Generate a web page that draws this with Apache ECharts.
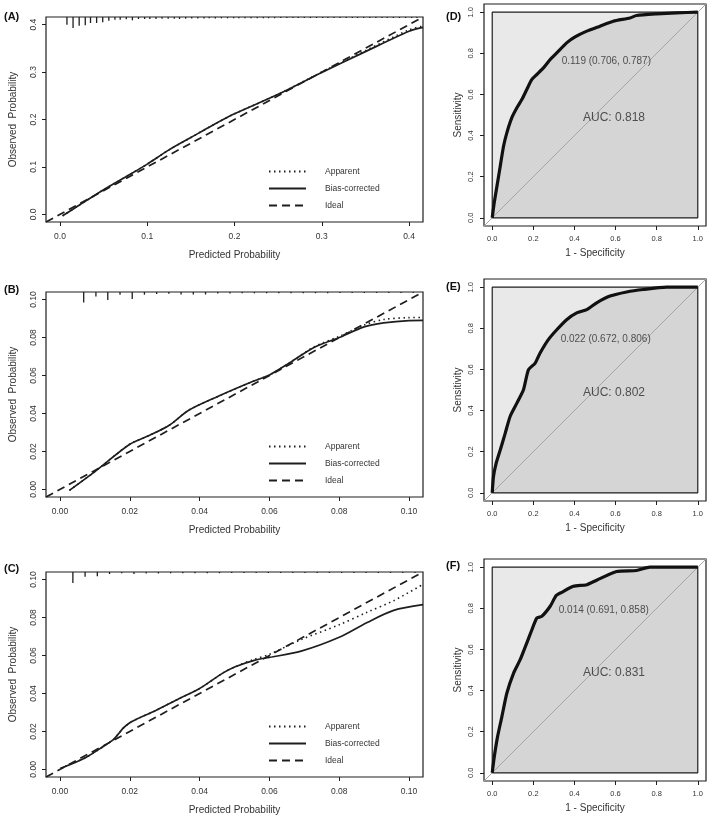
<!DOCTYPE html>
<html><head><meta charset="utf-8">
<script src="https://cdn.jsdelivr.net/npm/echarts@6/dist/echarts.min.js"></script>
<style>html,body{margin:0;padding:0;background:#fff}#c{width:709px;height:821px}</style>
</head><body><div id="c"></div>
<script>
// ---------- DATA ----------
// Calibration panel A
const A_x    = [0.003, 0.02, 0.05, 0.08, 0.1, 0.125, 0.15, 0.175, 0.2, 0.25, 0.3, 0.35, 0.4, 0.416];
const A_bias = [-0.003, 0.017, 0.052, 0.084, 0.106, 0.136, 0.162, 0.188, 0.212, 0.253, 0.299, 0.343, 0.386, 0.394];
const A_app  = [-0.003, 0.017, 0.052, 0.084, 0.106, 0.136, 0.162, 0.188, 0.212, 0.253, 0.300, 0.345, 0.389, 0.397];
// Calibration panel B
const B_x    = [0.0027, 0.0101, 0.02, 0.0257, 0.0313, 0.037, 0.0455, 0.055, 0.06, 0.0663, 0.0729, 0.08, 0.0871, 0.0927, 0.1, 0.104];
const B_bias = [-0.0005, 0.0095, 0.0238, 0.0285, 0.0338, 0.0418, 0.0492, 0.0567, 0.0603, 0.0673, 0.0749, 0.08, 0.0856, 0.0877, 0.0889, 0.089];
const B_app  = [-0.0005, 0.0095, 0.0238, 0.0285, 0.0338, 0.0418, 0.0492, 0.0567, 0.0603, 0.0673, 0.0752, 0.0806, 0.0866, 0.0895, 0.0905, 0.0906];
// Calibration panel C
const C_x    = [0.0002, 0.0073, 0.0125, 0.0153, 0.0167, 0.0181, 0.02, 0.0219, 0.0276, 0.0342, 0.04, 0.0465, 0.0502, 0.0559, 0.06, 0.0691, 0.08, 0.088, 0.0956, 0.104];
const C_bias = [0.0006, 0.0062, 0.0122, 0.0157, 0.0186, 0.0217, 0.0246, 0.0264, 0.0312, 0.0374, 0.0426, 0.0506, 0.0541, 0.0576, 0.059, 0.0623, 0.0696, 0.0774, 0.0838, 0.0868];
const C_app  = [0.0006, 0.0062, 0.0122, 0.0157, 0.0186, 0.0217, 0.0246, 0.0264, 0.0312, 0.0374, 0.0426, 0.0506, 0.0541, 0.0582, 0.0606, 0.0684, 0.0762, 0.0828, 0.0889, 0.0975];

// Rug (distribution of predictions) along top edge: positions and relative frequencies
const rugA_x = [0.008,0.015,0.022,0.029,0.035,0.042,0.049,0.056,0.063,0.069,0.076,0.083,0.090,0.097,0.103,0.110,0.117,0.124,0.131,0.137,0.144,0.151,0.158,0.165,0.171,0.178,0.185,0.192,0.199,0.205,0.212,0.219,0.226,0.233,0.239,0.246,0.253,0.260,0.267,0.273,0.280,0.287,0.294,0.301,0.307,0.314,0.321,0.328,0.335,0.341,0.348,0.355,0.362,0.369,0.375,0.382,0.389,0.396,0.403,0.409];
const rugA_f = [7.7,11,8.7,8.3,6,6,5.3,3.7,2.7,2.7,2.3,3.3,2,2,2,2,1.7,1.7,1.7,2,1.7,1.5,1.5,1.5,1.3,1.5,1.3,1.3,1.3,1.3,1.2,1.2,1.2,1.2,1.2,1.2,1.1,1.1,1.1,1.1,1.1,1.1,1,1,1,1,1,1,1,1,1,1,1,1,1,1,1,1,1,1];
const rugB_x = [0.0068,0.0103,0.0137,0.0172,0.0207,0.0242,0.0277,0.0312,0.0347,0.0382,0.0417,0.0452,0.0487,0.0522,0.0557,0.0592,0.0627,0.0662,0.0697,0.0732,0.0767,0.0802,0.0837,0.0872,0.0907,0.0942,0.0977,0.1012];
const rugB_f = [10.5,4.5,8,2.7,7,2.7,2,1.7,2.5,2.5,2.5,1.5,1.5,1.3,1.3,1.3,1.2,1.2,1.2,1.2,1.2,1,1,1,1,1,1,1];
const rugC_x = [0.0037,0.0072,0.0107,0.0142,0.0177,0.0212,0.0247,0.0282,0.0317,0.0352,0.0387,0.0422,0.0457,0.0492,0.0527,0.0562,0.0597,0.0632,0.0667,0.0702,0.0737,0.0772,0.0807,0.0842,0.0877,0.0912,0.0947,0.0982,0.1017];
const rugC_f = [11,4.8,4.2,2,1.3,2,1.5,1.5,1.3,1.3,1.2,1.2,1.2,1.1,1.1,1,1,1,1,1,1,1,1,1,1,1,1,1,1];

// ROC curves: 1 - specificity (fpr) and sensitivity (tpr)
const D_fpr = [0,0.0097,0.023,0.039,0.055,0.071,0.095,0.12,0.144,0.168,0.193,0.217,0.249,0.282,0.314,0.362,0.403,0.46,0.524,0.589,0.67,0.702,0.799,0.896,1];
const D_tpr = [0,0.073,0.154,0.251,0.348,0.413,0.486,0.535,0.575,0.624,0.673,0.697,0.729,0.77,0.802,0.851,0.88,0.908,0.932,0.956,0.972,0.984,0.992,0.997,1];
const E_fpr = [0,0.006,0.019,0.039,0.063,0.087,0.12,0.152,0.176,0.209,0.233,0.273,0.314,0.362,0.411,0.46,0.508,0.573,0.654,0.735,0.848,1];
const E_tpr = [0,0.078,0.143,0.208,0.289,0.371,0.436,0.501,0.598,0.631,0.68,0.745,0.793,0.842,0.875,0.891,0.924,0.957,0.977,0.989,1,1];
const F_fpr = [0,0.01,0.026,0.047,0.071,0.104,0.136,0.168,0.193,0.217,0.241,0.282,0.311,0.338,0.395,0.46,0.508,0.605,0.702,0.767,1];
const F_tpr = [0,0.078,0.176,0.273,0.387,0.485,0.55,0.631,0.696,0.753,0.761,0.81,0.862,0.878,0.907,0.915,0.937,0.979,0.984,1,1];

// Best thresholds (threshold, specificity, sensitivity) and AUCs
const D_thr = [0.119, 0.706, 0.787];
const E_thr = [0.022, 0.672, 0.806];
const F_thr = [0.014, 0.691, 0.858];
const aucs = [0.818, 0.802, 0.831];

// Tick labels
const ticksA = [0, 0.1, 0.2, 0.3, 0.4];
const ticksBC = [0, 0.02, 0.04, 0.06, 0.08, 0.10];
const ticksROC = [0, 0.2, 0.4, 0.6, 0.8, 1.0];
const legendNames = ['Apparent', 'Bias-corrected', 'Ideal'];
const panelLabels = ['(A)', '(B)', '(C)', '(D)', '(E)', '(F)'];

// ---------- BUILD ----------
const FONT = '"Liberation Sans", Arial, Helvetica, sans-serif';
const INK = '#1e1e1e';
const zip = (a, b) => a.map((v, i) => [v, b[i]]);

const grids = [
  {left: 42, top: 17, width: 381, height: 205},
  {left: 42, top: 292, width: 381, height: 205},
  {left: 42, top: 572, width: 381, height: 205},
  {left: 484, top: 4, width: 222, height: 222},
  {left: 484, top: 279, width: 222, height: 222},
  {left: 484, top: 559, width: 222, height: 222}
].map(g => Object.assign(g, {show: true, borderColor: INK, borderWidth: 1.2, backgroundColor: '#fff', containLabel: false}));

const cal = [
  {min: -0.016, max: 0.416, ticks: ticksA, dec: 1, x: A_x, bias: A_bias, app: A_app, rx: rugA_x, rf: rugA_f, legTop: 167},
  {min: -0.004, max: 0.104, ticks: ticksBC, dec: 2, x: B_x, bias: B_bias, app: B_app, rx: rugB_x, rf: rugB_f, legTop: 442},
  {min: -0.004, max: 0.104, ticks: ticksBC, dec: 2, x: C_x, bias: C_bias, app: C_app, rx: rugC_x, rf: rugC_f, legTop: 722}
];
const roc = [
  {fpr: D_fpr, tpr: D_tpr, thr: D_thr, off: [4, 5], auc: aucs[0]},
  {fpr: E_fpr, tpr: E_tpr, thr: E_thr, off: [-4, 12], auc: aucs[1]},
  {fpr: F_fpr, tpr: F_tpr, thr: F_thr, off: [-2, 14], auc: aucs[2]}
];
const ROC_MIN = -0.04, ROC_MAX = 1.04;

const xAxis = [], yAxis = [], series = [], legend = [];

function axis(gi, min, max, ticks, dec, isY, name, opts) {
  return {
    gridIndex: gi, type: 'value', min: min, max: max,
    position: isY ? 'left' : 'bottom',
    axisLine: {show: false, onZero: false}, splitLine: {show: false},
    axisTick: {show: true, customValues: ticks, length: 4, lineStyle: {color: INK, width: 1}},
    axisLabel: {customValues: ticks, formatter: v => v.toFixed(dec), fontSize: opts.fs, color: '#333',
                fontFamily: FONT, margin: opts.margin, rotate: isY ? 90 : 0},
    name: name, nameLocation: 'middle', nameGap: opts.nameGap,
    nameTextStyle: {fontSize: 10, color: '#333', fontFamily: FONT}
  };
}

function rugRender(params, api) {
  const cs = params.coordSys;
  const p = api.coord([api.value(0), 0]);
  return {type: 'line', shape: {x1: p[0], y1: cs.y, x2: p[0], y2: cs.y + api.value(1)},
          style: {stroke: INK, lineWidth: 1.3}};
}

cal.forEach((c, i) => {
  xAxis.push(axis(i, c.min, c.max, c.ticks, c.dec, false, 'Predicted Probability', {fs: 8.5, margin: 10, nameGap: 28}));
  yAxis.push(axis(i, c.min, c.max, c.ticks, c.dec, true, 'Observed  Probability', {fs: 8.5, margin: 8, nameGap: 28}));
  series.push({type: 'custom', name: 'rug' + i, xAxisIndex: i, yAxisIndex: i, renderItem: rugRender,
               data: zip(c.rx, c.rf), silent: true, z: 3});
  series.push({type: 'line', name: 'Ideal', xAxisIndex: i, yAxisIndex: i, symbol: 'none', silent: true,
               data: [[c.min, c.min], [c.max, c.max]],
               lineStyle: {color: INK, width: 1.7, type: [8, 5]}, itemStyle: {color: INK}, z: 2});
  series.push({type: 'line', name: 'Apparent', xAxisIndex: i, yAxisIndex: i, symbol: 'none', silent: true,
               data: zip(c.x, c.app), smooth: 0.3,
               lineStyle: {color: INK, width: 1.6, type: [1.5, 3.5]}, itemStyle: {color: INK}, z: 2});
  series.push({type: 'line', name: 'Bias-corrected', xAxisIndex: i, yAxisIndex: i, symbol: 'none', silent: true,
               data: zip(c.x, c.bias), smooth: 0.3,
               lineStyle: {color: INK, width: 1.7, type: 'solid'}, itemStyle: {color: INK}, z: 2});
  legend.push({data: legendNames, left: 268, top: c.legTop, orient: 'vertical', itemWidth: 37, itemHeight: 10,
               itemGap: 8, padding: 0, selectedMode: false,
               itemStyle: {color: 'rgba(0,0,0,0)', borderColor: 'rgba(0,0,0,0)', borderWidth: 0, opacity: 0},
               textStyle: {fontSize: 8.5, color: '#333', fontFamily: FONT, padding: [0, 0, 0, 14]}});
});

roc.forEach((r, k) => {
  const i = k + 3;
  xAxis.push(axis(i, ROC_MIN, ROC_MAX, ticksROC, 1, false, '1 - Specificity', {fs: 7.5, margin: 9, nameGap: 22}));
  yAxis.push(axis(i, ROC_MIN, ROC_MAX, ticksROC, 1, true, 'Sensitivity', {fs: 7.5, margin: 9, nameGap: 21}));
  const common = {xAxisIndex: i, yAxisIndex: i, symbol: 'none', silent: true};
  series.push(Object.assign({type: 'line', name: 'maxauc' + k, data: [[0, 1], [1, 1]],
               lineStyle: {width: 0}, areaStyle: {color: '#e9e9e9', opacity: 1}, z: 1}, common));
  series.push(Object.assign({type: 'line', name: 'aucpoly' + k, data: zip(r.fpr, r.tpr), smooth: 0.2,
               lineStyle: {width: 0}, areaStyle: {color: '#d5d5d5', opacity: 1}, z: 1}, common));
  series.push(Object.assign({type: 'line', name: 'diag' + k, data: [[ROC_MIN, ROC_MIN], [ROC_MAX, ROC_MAX]],
               lineStyle: {color: '#a6a6a6', width: 1}, z: 2}, common));
  series.push(Object.assign({type: 'line', name: 'square' + k, data: [[0, 0], [1, 0], [1, 1], [0, 1], [0, 0]],
               lineStyle: {color: INK, width: 1.2}, z: 2}, common));
  series.push(Object.assign({type: 'line', name: 'roc' + k, data: zip(r.fpr, r.tpr), smooth: 0.2,
               lineStyle: {color: '#111', width: 3.2, join: 'round'}, z: 3}, common));
  const t = r.thr;
  series.push({type: 'scatter', name: 'thr' + k, xAxisIndex: i, yAxisIndex: i, symbolSize: 0, silent: true, z: 4,
               data: [[1 - t[1], t[2]]],
               label: {show: true, position: 'right', offset: r.off, fontSize: 10, color: '#2a2a2a', fontFamily: FONT,
                       formatter: () => t[0].toFixed(3) + ' (' + t[1].toFixed(3) + ', ' + t[2].toFixed(3) + ')'}});
  series.push({type: 'scatter', name: 'auc' + k, xAxisIndex: i, yAxisIndex: i, symbolSize: 0, silent: true, z: 4,
               data: [[0.5, 0.5]],
               label: {show: true, position: 'right', distance: 0, offset: [-12, 3], fontSize: 12, color: '#2a2a2a', fontFamily: FONT,
                       formatter: () => 'AUC: ' + r.auc.toFixed(3)}});
});

const labelPos = [[4, 11], [4, 284], [4, 563], [446, 11], [446, 281], [446, 560]];
const title = panelLabels.map((t, i) => ({text: t, left: labelPos[i][0], top: labelPos[i][1], padding: 0,
  textStyle: {fontSize: 11, fontWeight: 'bold', color: '#111', fontFamily: FONT}}));

const chart = echarts.init(document.getElementById('c'), null, {renderer: 'canvas'});
chart.setOption({animation: false, backgroundColor: '#fff', title, grid: grids, xAxis, yAxis, series, legend});
</script></body></html>
